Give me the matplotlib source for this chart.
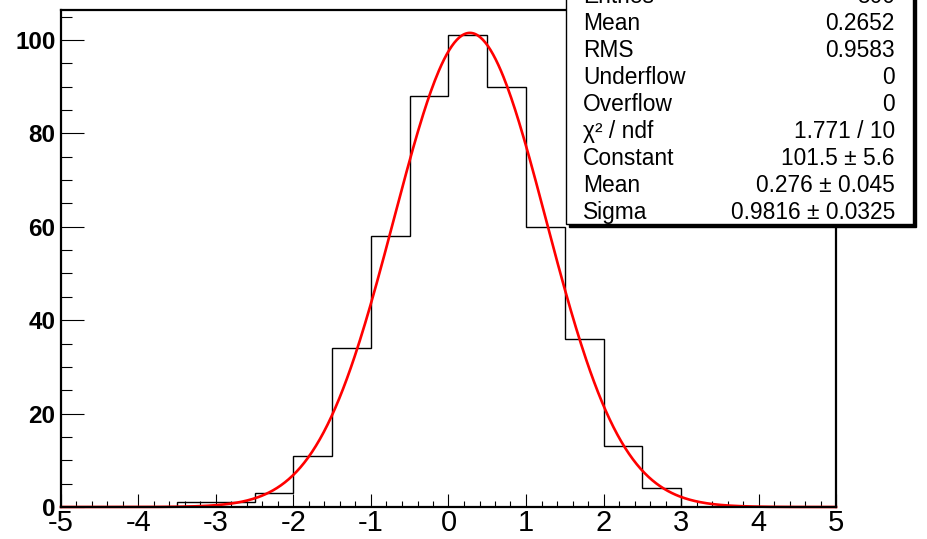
import numpy as np
import matplotlib
matplotlib.use("Agg")
import matplotlib.pyplot as plt
from matplotlib.patches import Rectangle
from matplotlib.ticker import MultipleLocator

plt.rcParams['font.family'] = ['Liberation Sans', 'DejaVu Sans']
plt.rcParams['axes.unicode_minus'] = False

# histogram: 20 bins of width 0.5 from -5 to 5
bin_edges = [-5.0, -4.5, -4.0, -3.5, -3.0, -2.5, -2.0, -1.5, -1.0, -0.5, 0.0,
             0.5, 1.0, 1.5, 2.0, 2.5, 3.0, 3.5, 4.0, 4.5, 5.0]
counts = [0, 0, 0, 1, 1, 3, 11, 34, 58, 88, 101, 90, 60, 36, 13, 4, 0, 0, 0, 0]

# gaussian fit parameters (from the stats box)
fit_constant = 101.5
fit_mean = 0.276
fit_sigma = 0.9816

stat_labels = ["Entries", "Mean", "RMS", "Underflow", "Overflow", "\u03c7\u00b2 / ndf",
               "Constant", "Mean", "Sigma"]
stat_values = ["500", "0.2652", "0.9583", "0", "0", "1.771 / 10",
               "101.5 \u00b1 5.6", "0.276 \u00b1 0.045", "0.9816 \u00b1 0.0325"]

W, H = 928, 539
fig = plt.figure(figsize=(W / 100, H / 100), dpi=100)
ax = fig.add_axes([61 / W, 1 - 507 / H, (836 - 61) / W, (507 - 10) / H])

ax.stairs(counts, bin_edges, color="black", linewidth=1.0)

xf = np.linspace(-5, 5, 600)
yf = fit_constant * np.exp(-0.5 * ((xf - fit_mean) / fit_sigma) ** 2)
ax.plot(xf, yf, color="red", linewidth=1.9, clip_on=False)

ax.set_xlim(-5, 5)
ax.set_ylim(0, 106.4)

ax.xaxis.set_major_locator(MultipleLocator(1))
ax.xaxis.set_minor_locator(MultipleLocator(0.2))
ax.yaxis.set_major_locator(MultipleLocator(20))
ax.yaxis.set_minor_locator(MultipleLocator(5))

ax.tick_params(axis="x", which="major", direction="in", length=9.4, width=0.8,
               labelsize=21, pad=1.5)
ax.tick_params(axis="x", which="minor", direction="in", length=4.3, width=0.8)
ax.tick_params(axis="y", which="major", direction="in", length=16.5, width=0.8,
               labelsize=17.5, pad=4)
ax.tick_params(axis="y", which="minor", direction="in", length=8, width=0.8)
for lab in ax.get_yticklabels():
    lab.set_fontweight("bold")

for s in ax.spines.values():
    s.set_linewidth(1.6)
    s.set_color("black")

# stats box
def fx(px):
    return px / W

def fy(py):
    return 1 - py / H

x0, x1, y_top, y_bot = 566, 913, -10, 224
shadow = Rectangle((fx(x0 + 3), fy(y_bot + 3)), fx(x1 - x0), (y_bot - y_top) / H,
                   transform=fig.transFigure, facecolor="black", edgecolor="black",
                   zorder=5)
box = Rectangle((fx(x0), fy(y_bot)), fx(x1 - x0), (y_bot - y_top) / H,
                transform=fig.transFigure, facecolor="white", edgecolor="black",
                linewidth=1.0, zorder=6)
fig.patches.extend([shadow, box])

for i, (lab, val) in enumerate(zip(stat_labels, stat_values)):
    yb = 3 + 27.0 * i
    fig.text(fx(583), fy(yb), lab, ha="left", va="baseline", fontsize=16.4, zorder=7)
    fig.text(fx(895), fy(yb), val, ha="right", va="baseline", fontsize=16.4, zorder=7)

fig.savefig("out.png", dpi=100)
